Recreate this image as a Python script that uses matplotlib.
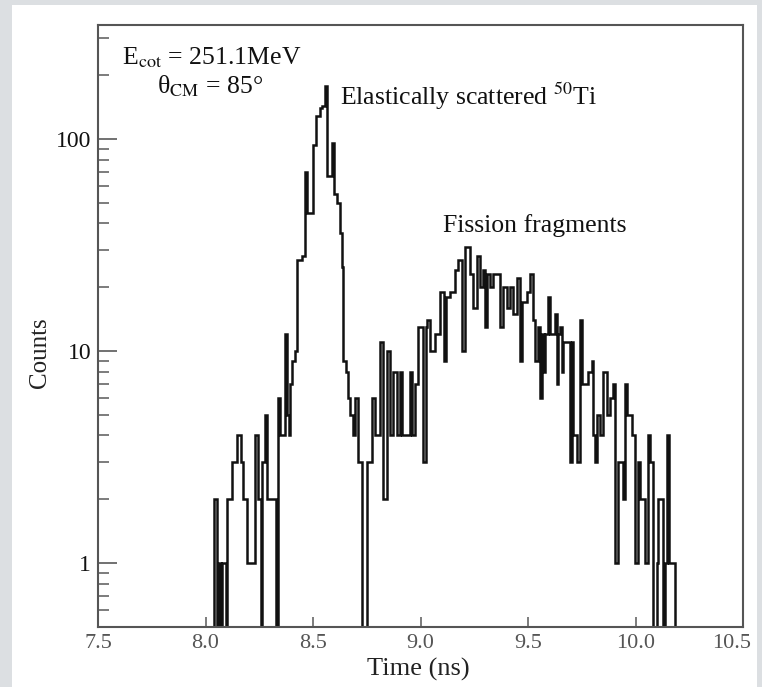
import numpy as np
import matplotlib.pyplot as plt
import matplotlib.transforms as mtransforms
from matplotlib.patches import Rectangle
from matplotlib.ticker import NullFormatter

plt.rcParams['font.family'] = ['Liberation Serif', 'DejaVu Serif']
plt.rcParams['mathtext.fontset'] = 'stix'

# step edges of the time spectrum (ns) and the counts in each step
edges = [7.998, 8.040, 8.053, 8.063, 8.072, 8.077, 8.095, 8.102, 8.123, 8.147,
         8.165, 8.174, 8.193, 8.230, 8.244, 8.258, 8.263, 8.277, 8.286, 8.328,
         8.335, 8.347, 8.370, 8.379, 8.388, 8.393, 8.402, 8.416, 8.426, 8.449,
         8.463, 8.472, 8.500, 8.514, 8.533, 8.542, 8.556, 8.565, 8.588, 8.598,
         8.612, 8.626, 8.635, 8.640, 8.653, 8.663, 8.672, 8.686, 8.695, 8.709,
         8.728, 8.751, 8.774, 8.788, 8.812, 8.826, 8.844, 8.858, 8.872, 8.891,
         8.905, 8.914, 8.951, 8.960, 8.974, 8.988, 9.012, 9.026, 9.030, 9.044,
         9.067, 9.091, 9.109, 9.119, 9.137, 9.160, 9.174, 9.193, 9.207, 9.230,
         9.244, 9.263, 9.277, 9.291, 9.300, 9.309, 9.323, 9.337, 9.370, 9.384,
         9.402, 9.416, 9.430, 9.449, 9.463, 9.472, 9.495, 9.509, 9.523, 9.533,
         9.547, 9.556, 9.565, 9.574, 9.579, 9.593, 9.602, 9.626, 9.635, 9.640,
         9.649, 9.658, 9.663, 9.695, 9.705, 9.709, 9.728, 9.742, 9.751, 9.779,
         9.798, 9.802, 9.812, 9.821, 9.835, 9.849, 9.867, 9.881, 9.895, 9.905,
         9.919, 9.942, 9.951, 9.960, 9.984, 9.998, 10.012, 10.021, 10.044, 10.058,
         10.067, 10.081, 10.100, 10.105, 10.128, 10.137, 10.147, 10.156, 10.184, 10.207]
counts = [0, 2, 0, 1, 0, 1, 0, 2, 3, 4,
          3, 2, 1, 4, 2, 0, 3, 5, 2, 0,
          6, 4, 12, 5, 4, 7, 9, 10, 27, 28,
          70, 45, 94, 128, 140, 143, 178, 67, 96, 55,
          50, 36, 25, 9, 8, 6, 5, 4, 6, 3,
          0, 3, 6, 4, 11, 2, 10, 4, 8, 4,
          8, 4, 8, 4, 7, 13, 3, 13, 14, 10,
          12, 19, 9, 18, 19, 24, 27, 10, 31, 23,
          16, 28, 20, 24, 13, 23, 20, 23, 13, 20,
          16, 20, 15, 22, 9, 17, 19, 23, 14, 9,
          13, 6, 12, 8, 12, 18, 12, 15, 7, 12,
          13, 8, 11, 3, 11, 4, 3, 14, 7, 8,
          9, 4, 3, 5, 4, 8, 5, 6, 7, 1,
          3, 2, 7, 5, 4, 1, 3, 2, 1, 4,
          3, 0, 1, 2, 0, 1, 4, 1, 0]

xticks = [7.5, 8.0, 8.5, 9.0, 9.5, 10.0, 10.5]
xlabels = ['7.5', '8.0', '8.5', '9.0', '9.5', '10.0', '10.5']
yticks = [1, 10, 100]
ylabels = ['1', '10', '100']

fig = plt.figure(figsize=(7.62, 6.87), dpi=100)
fig.patch.set_facecolor('#dcdfe2')
fig.patches.append(Rectangle((12 / 762, 0), 745 / 762, 682 / 687, transform=fig.transFigure,
                             facecolor='white', edgecolor='none', zorder=-10))

ax = fig.add_axes([98 / 762, 60 / 687, 645 / 762, 602 / 687])
ax.set_zorder(5)
ax.set_facecolor('white')

# empty bins drop below the axis
ax.stairs(np.clip(counts, 0.1, None), edges, baseline=None, color='#111111', lw=1.8)

ax.set_yscale('log')
ax.set_xlim(7.5, 10.5)
ax.set_ylim(0.5, 345)

ax.set_xticks(xticks)
ax.set_xticklabels(xlabels)
ax.set_yticks(yticks)
ax.set_yticklabels(ylabels)
ax.yaxis.set_minor_formatter(NullFormatter())

ax.tick_params(axis='x', which='major', direction='in', length=7, width=1.2, color='#666666',
               labelsize=16, labelcolor='#555555', pad=5)
ax.tick_params(axis='x', which='minor', bottom=False)
ax.tick_params(axis='y', which='major', direction='in', length=14, width=1.3, color='#666666',
               labelsize=17, labelcolor='#111111', pad=5)
ax.tick_params(axis='y', which='minor', direction='in', length=8, width=1.2, color='#666666')

# last label sits inside the white panel, pulled left of its tick
last = ax.get_xticklabels()[-1]
last.set_horizontalalignment('right')
last.set_transform(last.get_transform() + mtransforms.ScaledTranslation(6 / 72, 0, fig.dpi_scale_trans))

for s in ax.spines.values():
    s.set_color('#555555')
    s.set_linewidth(1.5)

ax.set_xlabel('Time (ns)', fontsize=19, color='#222222')
ax.xaxis.set_label_coords(0.496, -0.07)
ax.xaxis.label.set_va('center')
ax.set_ylabel('Counts', fontsize=18, color='#222222')
ax.yaxis.set_label_coords(-0.09, 0.455)
ax.yaxis.label.set_va('center')

ax.text(0.037, 0.934, r'E$_{\mathrm{cot}}$ = 251.1MeV', transform=ax.transAxes,
        fontsize=18.5, color='#111111', va='baseline')
ax.text(0.0915, 0.887, r'θ$_{\mathrm{CM}}$ = 85°', transform=ax.transAxes,
        fontsize=18.5, color='#111111', va='baseline')
ax.text(0.375, 0.867, r'Elastically scattered $^{\mathrm{50}}$Ti', transform=ax.transAxes,
        fontsize=18.5, color='#111111', va='baseline')
ax.text(0.535, 0.656, 'Fission fragments', transform=ax.transAxes,
        fontsize=18.5, color='#111111', va='baseline')

fig.savefig('out.png', dpi=100, facecolor=fig.get_facecolor())
